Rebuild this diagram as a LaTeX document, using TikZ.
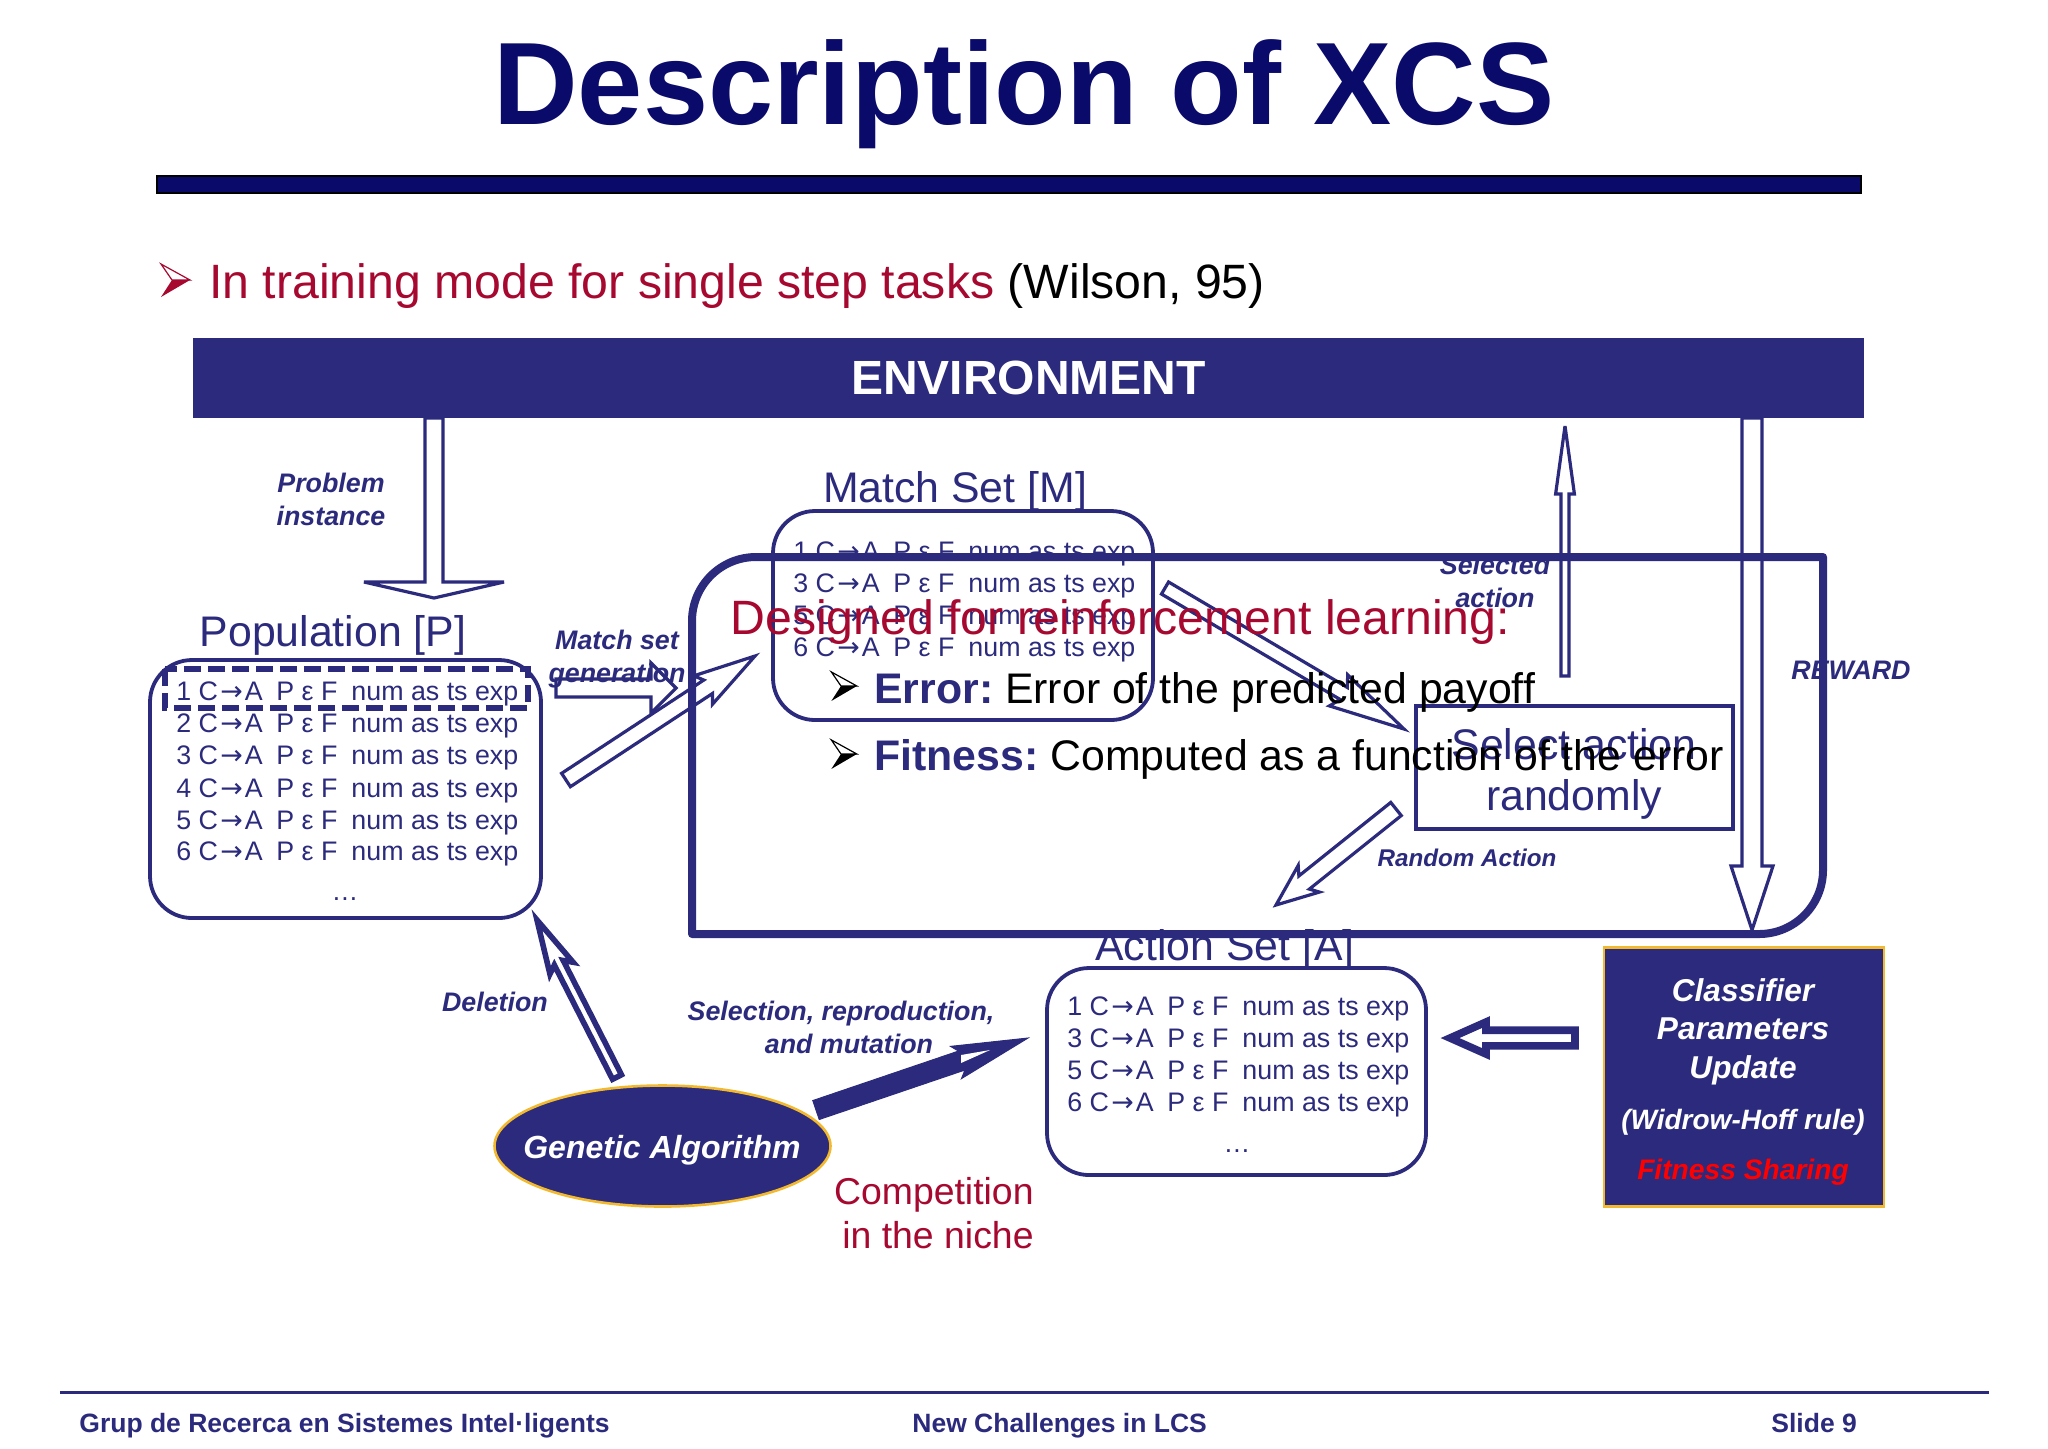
\documentclass[tikz,border=0pt]{standalone}
\usepackage{fontspec}
\setmainfont{Liberation Sans}
\newfontfamily\arrowfont{DejaVu Sans}
\usetikzlibrary{calc,shapes.geometric}
\definecolor{navy}{HTML}{2B2A7C}
\definecolor{titleblue}{HTML}{0A0A6B}
\definecolor{darkred}{HTML}{A6082F}
\definecolor{gold}{HTML}{F2B92E}
\newcommand{\fsize}[2]{\fontsize{#1}{#2}\selectfont}
\newcommand{\clrow}[1]{#1 C\makebox[13.4pt][c]{\arrowfont →}A\hspace{6.8pt}P ε F\hspace{7pt}num as ts exp}
\newcommand{\blockarrow}[7][hollowarrow]{%
  \coordinate (hb) at ($(#3)!#6!(#2)$);
  \coordinate (hn) at ($(#3)!#6-#7!(#2)$);
  \draw[#1] ($(#2)!#4!90:(#3)$) -- ($(hn)!#4!90:(#3)$) -- ($(hb)!#5!90:(#3)$) -- (#3)
    -- ($(hb)!#5!-90:(#3)$) -- ($(hn)!#4!-90:(#3)$) -- ($(#2)!#4!-90:(#3)$) -- cycle;
}
\tikzset{
    hollowarrow/.style={draw=navy, line width=1.6pt, miter limit=6},
    heavyarrow/.style={draw=navy, line width=2.8pt, miter limit=6},
    solidarrow/.style={draw=navy, fill=navy, line width=0.5pt},
    blockleft/.style={draw=navy, line width=3.8pt, miter limit=6},
    setbox/.style={draw=navy, line width=1.9pt, rounded corners=21pt, inner sep=0pt},
    settitle/.style={anchor=base, inner sep=0pt, text=navy, font=\fsize{21.4}{25.5}},
    rowtext/.style={anchor=base west, inner sep=0pt, text=navy, font=\fsize{13.4}{16}},
    arrowlabel/.style={align=center, inner sep=0pt, text=navy, font=\fsize{13.4}{16.5}\bfseries\itshape},
    bodytext/.style={anchor=base west, inner sep=0pt, font=\fsize{21.4}{25}},
    whitelabel/.style={inner sep=0pt, text=white, font=\fsize{15.8}{18}\bfseries\itshape},
    foottext/.style={anchor=base west, inner sep=0pt, text=navy, font=\fsize{13.25}{16}\bfseries},
    bulletmark/.pic={
        \draw[line width=0.6pt, line join=miter] (-11,-16) -- (18,0) -- (0,0) -- cycle;
        \fill (-11,17) -- (18,0) -- (0,0) -- cycle;
    },
}
\begin{document}
\begin{tikzpicture}[x=0.5pt,y=-0.5pt]
\useasboundingbox (0,0) rectangle (2048,1448);

\node[anchor=base, inner sep=0pt, text=titleblue, font=\fsize{58.6}{60}\bfseries] (title) at (1024,124) {Description of XCS};
\fill[titleblue, draw=black, line width=1pt] (157,176) rectangle (1861,193);

\pic[darkred] (bul0) at (172,280) {bulletmark};
\node[anchor=base west, inner sep=0pt, font=\fsize{24.1}{28}] (intro) at (209,298) {\textcolor{darkred}{In training mode for single step tasks} (Wilson, 95)};

\node[fill=navy, minimum width=835.5pt, minimum height=40pt, inner sep=0pt, text=white, font=\fsize{24}{26}\bfseries] (env) at (1028.5,378) {ENVIRONMENT};

% population
\node[settitle] (poptitle) at (333,646) {Population [P]};
\node[setbox, minimum width=195.5pt, minimum height=129pt] (popbox) at (345.5,789) {};
\foreach \n/\y in {1/700,2/732,3/764,4/797,5/829,6/860}
    \node[rowtext] (pop\n) at (176,\y) {\clrow{\n}};
\node[rowtext, anchor=base] (popdots) at (345,900) {\dots};
\draw[navy, line width=2.8pt, dash pattern=on 8.5pt off 3.5pt] (165,669) rectangle (528,708);

% match set
\node[settitle] (mattitle) at (955,502) {Match Set [M]};
\node[setbox, minimum width=190pt, minimum height=104.5pt] (matbox) at (963,615.5) {};
\foreach \n/\y in {1/560,3/592,5/624,6/656}
    \node[rowtext] (mat\n) at (793,\y) {\clrow{\n}};

% action set
\node[settitle] (acttitle) at (1225,960) {Action Set [A]};
\node[setbox, minimum width=189.5pt, minimum height=103.5pt] (actbox) at (1236.5,1071.5) {};
\foreach \n/\y in {1/1015,3/1047,5/1079,6/1111}
    \node[rowtext] (act\n) at (1067,\y) {\clrow{\n}};
\node[rowtext, anchor=base] (actdots) at (1237,1152) {\dots};

% labels
\node[arrowlabel] (problem) at (331,499) {Problem\\instance};
\node[arrowlabel] (matchgen) at (617,659) {Match set\\generation};
\node[arrowlabel] (selected) at (1495,581) {Selected\\action};
\node[arrowlabel] (reward) at (1851,670) {REWARD};
\node[arrowlabel, font=\fsize{12.1}{15}\bfseries\itshape] (randact) at (1467,858) {Random Action};
\node[arrowlabel] (deletion) at (495,1002) {Deletion};
\node[arrowlabel] (selrep1) at (841,1014) {Selection, reproduction,};
\node[arrowlabel] (selrep2) at (849,1044) {and mutation};

% select action box
\node[draw=navy, line width=2pt, minimum width=158.5pt, minimum height=61.5pt, inner sep=0pt] (selbox) at (1574.5,767) {};
\node[settitle] (sel1) at (1574,759) {Select action};
\node[settitle] (sel2) at (1574,810) {randomly};

% big frame
\draw[navy, line width=4pt, line join=round] (692,934) [rounded corners=32pt] -- (692,557) [sharp corners] -- (1823,557) [rounded corners=32pt] -- (1823,934) [sharp corners] -- cycle;

% arrows
\coordinate (a1) at (434,418); \coordinate (a2) at (434,598);
\blockarrow{a1}{a2}{4.5pt}{35pt}{8pt}{0pt}
\coordinate (b1) at (556,688); \coordinate (b2) at (676,688);
\blockarrow{b1}{b2}{4.5pt}{12.5pt}{12.5pt}{0pt}
\coordinate (c1) at (566,780); \coordinate (c2) at (755,656);
\blockarrow{c1}{c2}{4pt}{8.5pt}{31pt}{3pt}
\coordinate (d1) at (1165,588); \coordinate (d2) at (1404,729);
\blockarrow{d1}{d2}{3.5pt}{9pt}{38pt}{3pt}
\coordinate (e1) at (1565,676); \coordinate (e2) at (1565,426);
\blockarrow{e1}{e2}{2pt}{4.7pt}{34pt}{0pt}
\coordinate (f1) at (1752,418); \coordinate (f2) at (1752,930);
\blockarrow{f1}{f2}{5pt}{10.5pt}{32pt}{0pt}
\coordinate (g1) at (1396,809); \coordinate (g2) at (1276,905);
\blockarrow{g1}{g2}{4.2pt}{8.5pt}{21pt}{3pt}
\coordinate (h1) at (617,1077); \coordinate (h2) at (537,920);
\blockarrow[heavyarrow]{h1}{h2}{2.5pt}{6.5pt}{27pt}{3pt}
\coordinate (i1) at (816,1110); \coordinate (i2) at (1028,1038);
\blockarrow[solidarrow]{i1}{i2}{5pt}{8.5pt}{38pt}{3pt}
\fill[white] (961,1055) -- (990,1050) -- (961,1063) -- cycle;
\coordinate (j1) at (1575,1038); \coordinate (j2) at (1450,1038);
\blockarrow[blockleft]{j1}{j2}{3.9pt}{8pt}{18pt}{0pt}

% genetic algorithm
\node[ellipse, draw=gold, fill=navy, line width=1.3pt, minimum width=168pt, minimum height=60.5pt, inner sep=0pt] (ga) at (662.5,1146) {};
\node[whitelabel, font=\fsize{16}{18}\bfseries\itshape] (gatext) at (662,1150) {Genetic Algorithm};

\node[anchor=base east, inner sep=0pt, text=darkred, font=\fsize{18.7}{22}] (comp1) at (1034,1204) {Competition};
\node[anchor=base east, inner sep=0pt, text=darkred, font=\fsize{18.7}{22}] (comp2) at (1034,1248) {in the niche};

% update box
\node[draw=gold, fill=navy, line width=1.3pt, minimum width=140pt, minimum height=129.5pt, inner sep=0pt] (upbox) at (1744,1077) {};
\node[whitelabel] (up1) at (1743,990) {Classifier};
\node[whitelabel] (up2) at (1743,1029) {Parameters};
\node[whitelabel] (up3) at (1743,1070) {Update};
\node[whitelabel, font=\fsize{14}{16}\bfseries\itshape] (up4) at (1743,1122) {(Widrow-Hoff rule)};
\node[whitelabel, text=red, font=\fsize{14.1}{17}\bfseries\itshape] (up5) at (1743,1172) {Fitness Sharing};

% overlay text
\node[anchor=base west, inner sep=0pt, text=darkred, font=\fsize{24.1}{28}] (design) at (730,634) {Designed for reinforcement learning:};
\pic[black, scale=0.88] (bul1) at (841,686) {bulletmark};
\node[bodytext] (errline) at (874,703) {\textcolor{navy}{\bfseries Error:}\hspace{-2pt} Error of the predicted payoff};
\pic[black, scale=0.88] (bul2) at (841,754) {bulletmark};
\node[bodytext] (fitline) at (874,770) {\textcolor{navy}{\bfseries Fitness:}\hspace{-2pt} Computed as a function of the error};

% footer
\draw[navy, line width=1.5pt] (60,1392) -- (1989,1392);
\node[foottext] (foot1) at (79,1432) {Grup de Recerca en Sistemes Intel·ligents};
\node[foottext] (foot2) at (912,1432) {New Challenges in LCS};
\node[foottext] (foot3) at (1771,1432) {Slide 9};
\end{tikzpicture}
\end{document}
